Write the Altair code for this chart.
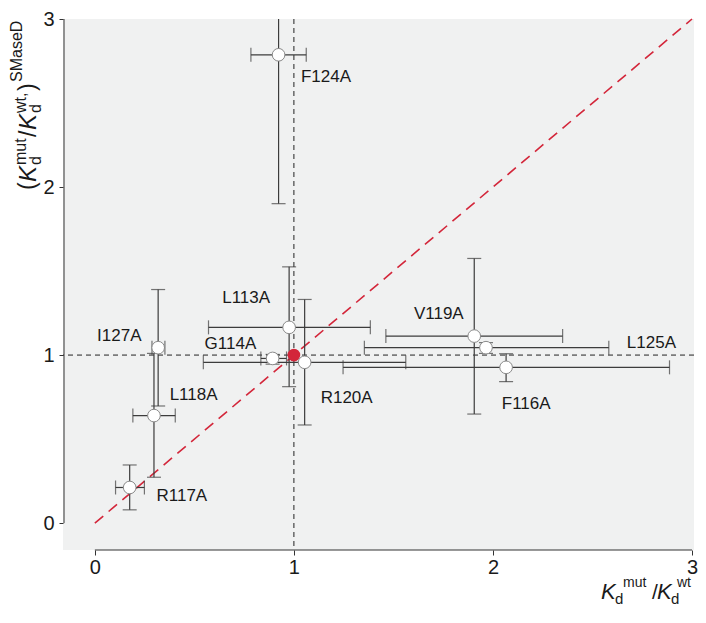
import altair as alt
import pandas as pd

# ---- data ----
names = ["F124A", "L113A", "I127A", "G114A", "L118A", "R117A", "R120A", "V119A", "L125A", "F116A"]
x_val = [0.923, 0.976, 0.318, 0.893, 0.297, 0.175, 1.054, 1.906, 1.965, 2.066]
y_val = [2.787, 1.165, 1.044, 0.980, 0.640, 0.212, 0.957, 1.113, 1.044, 0.927]
x_lo = [0.784, 0.571, 0.287, 0.834, 0.191, 0.104, 0.545, 1.462, 1.354, 1.247]
x_hi = [1.062, 1.384, 0.352, 0.963, 0.404, 0.249, 1.562, 2.350, 2.582, 2.887]
y_lo = [1.901, 0.812, 0.697, 0.946, 0.273, 0.079, 0.584, 0.649, 1.010, 0.842]
y_hi = [3.250, 1.525, 1.390, 1.004, 1.010, 0.346, 1.331, 1.575, 1.074, 1.008]
label_x = [1.161, 0.760, 0.123, 0.681, 0.496, 0.437, 1.265, 1.728, 2.796, 2.167]
label_y = [2.656, 1.337, 1.111, 1.064, 0.762, 0.160, 0.743, 1.242, 1.070, 0.707]

wt_x = [1.0]
wt_y = [1.0]
diag = [0.0, 3.0]
ticks = [0, 1, 2, 3]

df = pd.DataFrame({"name": names, "x": x_val, "y": y_val, "xlo": x_lo, "xhi": x_hi,
                   "ylo": y_lo, "yhi": y_hi, "lx": label_x, "ly": label_y})
df_wt = pd.DataFrame({"x": wt_x, "y": wt_y})
df_diag = pd.DataFrame({"x": diag, "y": diag})

W, H = 631, 531
XDOM = [-0.16, 3.01]
YDOM = [-0.16, 3.0]
INK = "#3c3c3c"
RED = "#d3263a"

xs = alt.Scale(domain=XDOM, nice=False, zero=False)
ys = alt.Scale(domain=YDOM, nice=False, zero=False)
xax = alt.Axis(values=ticks, format="d", domain=False, grid=False, title=None, tickSize=5, tickColor="#333",
               labelFontSize=20, labelColor="#1a1a1a", labelPadding=2, labelFont="Liberation Sans")
yax = alt.Axis(values=ticks, format="d", domain=False, grid=False, title=None, tickSize=4, tickColor="#333",
               labelFontSize=20, labelColor="#1a1a1a", labelPadding=5, labelFont="Liberation Sans")

base = alt.Chart(df)

# reference lines
hline = alt.Chart(pd.DataFrame({"v": [1.0]})).mark_rule(color="#222", strokeDash=[5, 4], strokeWidth=1).encode(
    y=alt.Y("v:Q", scale=ys, axis=yax))
vline = alt.Chart(pd.DataFrame({"v": [1.0]})).mark_rule(color="#222", strokeDash=[5, 4], strokeWidth=1).encode(
    x=alt.X("v:Q", scale=xs, axis=xax))
diag_line = alt.Chart(df_diag).mark_line(color=RED, strokeDash=[11, 7], strokeWidth=1.6).encode(
    x=alt.X("x:Q", scale=xs), y=alt.Y("y:Q", scale=ys))

# range-frame axis lines
frame_df = pd.DataFrame({"a": [0.0], "b": [3.0]})
xframe = alt.Chart(frame_df).mark_rule(color="#333", strokeWidth=1).encode(
    x=alt.X("a:Q", scale=xs), x2="b:Q", y=alt.value(H))
yframe = alt.Chart(frame_df).mark_rule(color="#333", strokeWidth=1).encode(
    y=alt.Y("a:Q", scale=ys), y2="b:Q", x=alt.value(1))

# error bars
xerr = base.mark_rule(color=INK, strokeWidth=1.2, clip=True).encode(
    x=alt.X("xlo:Q", scale=xs), x2="xhi:Q", y=alt.Y("y:Q", scale=ys))
yerr = base.mark_rule(color=INK, strokeWidth=1.2, clip=True).encode(
    y=alt.Y("ylo:Q", scale=ys), y2="yhi:Q", x=alt.X("x:Q", scale=xs))
cap_xlo = base.mark_tick(color=INK, orient="vertical", size=14, thickness=1.2, clip=True).encode(
    x=alt.X("xlo:Q", scale=xs), y=alt.Y("y:Q", scale=ys))
cap_xhi = base.mark_tick(color=INK, orient="vertical", size=14, thickness=1.2, clip=True).encode(
    x=alt.X("xhi:Q", scale=xs), y=alt.Y("y:Q", scale=ys))
cap_ylo = base.mark_tick(color=INK, orient="horizontal", size=14, thickness=1.2, clip=True).encode(
    x=alt.X("x:Q", scale=xs), y=alt.Y("ylo:Q", scale=ys))
cap_yhi = base.mark_tick(color=INK, orient="horizontal", size=14, thickness=1.2, clip=True).encode(
    x=alt.X("x:Q", scale=xs), y=alt.Y("yhi:Q", scale=ys))

pts = base.mark_point(shape="circle", filled=True, fill="white", stroke="#8a8a8a", strokeWidth=1,
                      size=160, opacity=1).encode(x=alt.X("x:Q", scale=xs), y=alt.Y("y:Q", scale=ys))
wt_pt = alt.Chart(df_wt).mark_point(shape="circle", filled=True, color=RED, size=160, opacity=1).encode(
    x=alt.X("x:Q", scale=xs), y=alt.Y("y:Q", scale=ys))

labels = base.mark_text(fontSize=17, font="Liberation Sans", color="#1a1a1a", align="center",
                        baseline="middle").encode(
    x=alt.X("lx:Q", scale=xs), y=alt.Y("ly:Q", scale=ys), text="name:N")


def piece(txt, x, y, size, italic=False, angle=0, align="left", baseline="alphabetic"):
    kw = dict(text=txt, fontSize=size, font="Liberation Sans", color="#1a1a1a",
              align=align, baseline=baseline)
    if italic:
        kw["fontStyle"] = "italic"
    if angle:
        kw["angle"] = angle
    return alt.Chart(alt.Data(values=[{}])).mark_text(**kw).encode(x=alt.value(x), y=alt.value(y))


# x-axis title: K_d^mut /K_d^wt
xt = [
    piece("K", 538, 580, 22, italic=True),
    piece("d", 552, 585, 15),
    piece("mut", 560, 568, 14),
    piece("/", 589, 580, 21),
    piece("K", 594, 580, 22, italic=True),
    piece("d", 608, 585, 15),
    piece("wt", 614, 568, 14),
]
# y-axis title (rotated): (K_d^mut/K_d^wt,)^SMaseD
yt = [
    piece("(", -28, 171, 23, angle=270),
    piece("K", -27, 163, 24, italic=True, angle=270),
    piece("d", -22, 146, 16, angle=270),
    piece("mut", -37, 146, 16, angle=270),
    piece("/", -27, 118, 23, angle=270),
    piece("K", -27, 111, 24, italic=True, angle=270),
    piece("d", -22, 94, 16, angle=270),
    piece("wt,", -37, 94, 16, angle=270),
    piece(")", -28, 72, 23, angle=270),
    piece("SMaseD", -41, 63, 16, angle=270),
]

chart = alt.layer(
    hline, vline, diag_line, xframe, yframe,
    xerr, yerr, cap_xlo, cap_xhi, cap_ylo, cap_yhi,
    pts, wt_pt, labels, *xt, *yt
).properties(
    width=W, height=H,
    autosize=alt.AutoSizeParams(type="none"),
    padding={"left": 55, "top": 11, "right": 4, "bottom": 59},
).configure_view(stroke=None, fill="#f0f1f1")

chart.save("out.html", embed_options={"renderer": "svg", "actions": False})
